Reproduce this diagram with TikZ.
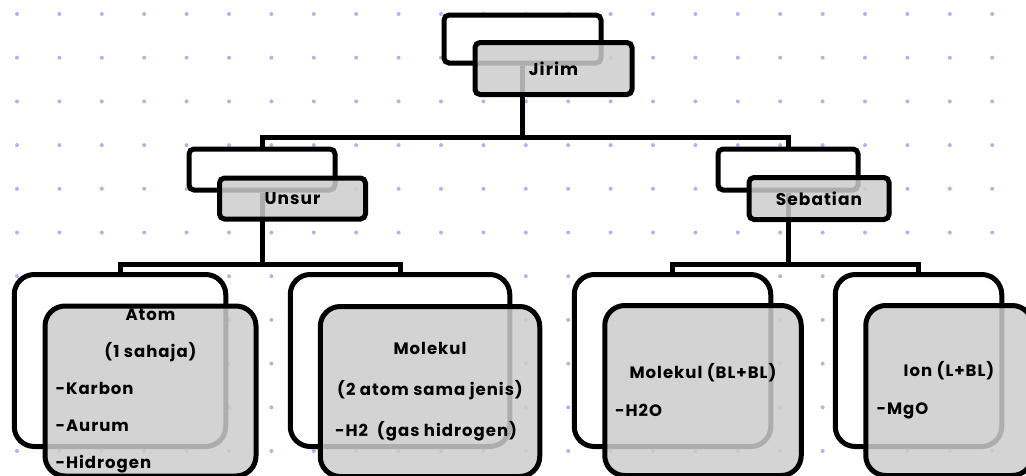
\documentclass[tikz,border=0pt]{standalone}
\usepackage{fontspec}
\setmainfont{Poppins}[LetterSpace=6]
\usepackage{tikz}
\definecolor{dotblue}{RGB}{178,178,238}
\tikzset{
  backbox/.style={draw=black, line width=5pt, fill=white, rounded corners=5pt, inner sep=0pt},
  frontbox/.style={draw=black, line width=5pt, fill=black!20, fill opacity=0.85, text opacity=1,
    rounded corners=5pt, inner sep=0pt, font=\bfseries\fontsize{17}{20}\selectfont},
  bigbox/.style={rounded corners=20pt, minimum height=172pt},
  leafbox/.style={rounded corners=20pt, minimum height=170pt, align=center},
  link/.style={line width=5pt, draw=black},
}
\def\lft#1#2{\makebox[#1pt][l]{#2}}

\begin{document}
\begin{tikzpicture}[x=1pt,y=-1pt]
   \useasboundingbox (0,0) rectangle (1026,475);
   \clip (0,0) rectangle (1026,475);
   \foreach \i in {0,...,23}
     \foreach \j in {0,...,10}
       \fill[dotblue] (17+42.4*\i,14+43.7*\j) circle (2);

   % back boxes
   \node[backbox, minimum width=157pt, minimum height=48pt] (jirimB) at (522.5,39) {};
   \node[backbox, minimum width=146pt, minimum height=41pt] (unsurB) at (262,169.5) {};
   \node[backbox, minimum width=140pt, minimum height=41pt] (sebatianB) at (788,169.5) {};
   \node[backbox, bigbox, minimum width=211.5pt] (atomB) at (120,360.5) {};
   \node[backbox, bigbox, minimum width=219.5pt] (molekulB) at (400,360.5) {};
   \node[backbox, bigbox, minimum width=196.5pt] (sebmolB) at (672.5,360.5) {};
   \node[backbox, bigbox, minimum width=166.5pt] (ionB) at (918.5,360.5) {};

   \coordinate (busTop) at (522.5,137);
   \coordinate (busUnsur) at (262,264);
   \coordinate (busSebatian) at (788,264);

   \draw[link] (jirimB.south) -- (busTop) -| (unsurB.north);
   \draw[link] (busTop) -| (sebatianB.north);
   \draw[link] (unsurB.south) -- (busUnsur) -| (atomB.north);
   \draw[link] (busUnsur) -| (molekulB.north);
   \draw[link] (sebatianB.south) -- (busSebatian) -| (sebmolB.north);
   \draw[link] (busSebatian) -| (ionB.north);

   % front boxes
   \node[frontbox, minimum width=157pt, minimum height=52pt] (jirimF) at ([shift={(31,29.5)}]jirimB.center) {Jirim};
   \node[frontbox, minimum width=146pt, minimum height=41pt] (unsurF) at ([shift={(30.5,29)}]unsurB.center) {Unsur};
   \node[frontbox, minimum width=140pt, minimum height=42pt] (sebatianF) at ([shift={(31,29)}]sebatianB.center) {Sebatian};

   \node[frontbox, leafbox, minimum width=211pt, font=\bfseries\fontsize{16.5}{37}\selectfont] (atomF)
     at ([shift={(30.5,30.5)}]atomB.center)
     {Atom\\(1 sahaja)\\\lft{190}{-Karbon}\\\lft{190}{-Aurum}\\\lft{190}{-Hidrogen}};
   \node[frontbox, leafbox, minimum width=219.5pt, font=\bfseries\fontsize{16.5}{41}\selectfont] (molekulF)
     at ([shift={(30,31)}]molekulB.center)
     {Molekul\\(2 atom sama jenis)\\\lft{190}{-H2~~(gas hidrogen)}};
   \node[frontbox, leafbox, minimum width=196.5pt, font=\bfseries\fontsize{16.5}{38}\selectfont] (sebmolF)
     at ([shift={(30.5,30)}]sebmolB.center)
     {Molekul (BL+BL)\\\lft{176}{-H2O}};
   \node[frontbox, leafbox, minimum width=166.5pt, font=\bfseries\fontsize{16.5}{38}\selectfont] (ionF)
     at ([shift={(30.5,30)}]ionB.center)
     {Ion (L+BL)\\\lft{145}{-MgO}};
\end{tikzpicture}
\end{document}
